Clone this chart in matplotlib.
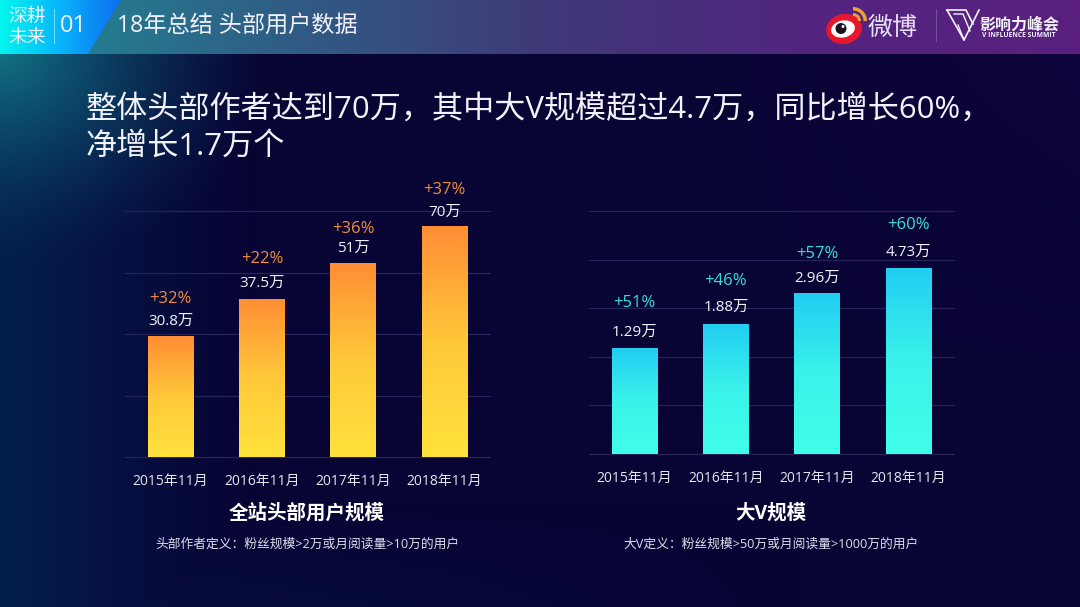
"""Recreate the head-user slide: two gradient bar charts on a dark slide."""

import matplotlib
matplotlib.use("Agg")
import matplotlib.pyplot as plt
from matplotlib.colors import LinearSegmentedColormap
from matplotlib.patches import Circle, Ellipse, Polygon, Wedge
import numpy as np

plt.rcParams['font.family'] = ['Open Sans', 'Noto Sans CJK SC', 'DejaVu Sans']

WIDTH = 1080
HEIGHT = 607
DPI = 100

# data (bar heights are on the drawn axis, they do not follow the labels)
months = ['2015年11月', '2016年11月', '2017年11月', '2018年11月']
total_heights = [39.3, 51.4, 63.1, 75.1]
total_labels = ['30.8万', '37.5万', '51万', '70万']
total_growth = ['+32%', '+22%', '+36%', '+37%']
v_heights = [2.18, 2.68, 3.31, 3.83]
v_labels = ['1.29万', '1.88万', '2.96万', '4.73万']
v_growth = ['+51%', '+46%', '+57%', '+60%']

WHITE = '#f2f2fa'
GRID = '#24245a'


def pixel_axes(fig, x0, y0, x1, y1):
    """Add axes from picture pixel coordinates (y going down)."""
    return fig.add_axes([x0 / WIDTH, 1 - y1 / HEIGHT, (x1 - x0) / WIDTH, (y1 - y0) / HEIGHT])


def draw_background(ov):
    """Dark navy slide with a teal glow in the upper left and the header band."""
    yy, xx = np.mgrid[0:HEIGHT, 0:WIDTH]
    base = np.array([8, 4, 52], dtype=float)
    navy = np.array([3, 30, 78], dtype=float)
    teal = np.array([18, 112, 130], dtype=float)
    purple = np.array([30, 8, 78], dtype=float)
    left = np.clip(1 - xx / 260.0, 0, 1) ** 1.2
    bottom = np.clip((yy - 500) / 107.0, 0, 1) * np.clip(1 - xx / 800.0, 0, 1) * 0.5
    corner = np.clip(1 - np.hypot(xx / 1.3, yy - 54) / 220.0, 0, 1) ** 1.6
    right = np.clip((xx - 700) / 380.0, 0, 1) * np.clip(1 - yy / 400.0, 0, 1) * 0.4
    img = base + (navy - base)[None, None, :] * np.maximum(left, bottom)[:, :, None]
    img = img + (teal - img) * corner[:, :, None]
    img = img + (purple - base)[None, None, :] * right[:, :, None]
    ov.imshow(img / 255, extent=[0, WIDTH, HEIGHT, 0], aspect='auto', zorder=0)

    band = LinearSegmentedColormap.from_list('band', ['#1f8a94', '#2f5f86', '#3f3a78', '#52257f', '#5a1f80'])
    ov.imshow(np.linspace(0, 1, 512)[None, :], extent=[0, WIDTH, 54, 0], aspect='auto', cmap=band, zorder=1)

    cyan = LinearSegmentedColormap.from_list('cyan', ['#00f6ee', '#08b4fa', '#0f6cf0'])
    im = ov.imshow(np.linspace(0, 1, 256)[None, :], extent=[0, 121, 54, 0], aspect='auto', cmap=cyan, zorder=2)
    shape = Polygon([(0, 0), (121, 0), (88, 54), (0, 54)], closed=True, facecolor='none', edgecolor='none',
                    transform=ov.transData)
    ov.add_patch(shape)
    im.set_clip_path(shape)
    ov.plot([53.5, 53.5], [9, 43], color='#7fe8f8', lw=0.6, zorder=3)


def draw_header(ov):
    """Header texts and the two logos."""
    ov.text(27, 17, '深耕', color=WHITE, fontsize=13.5, ha='center', va='center', zorder=4)
    ov.text(27, 37.5, '未来', color=WHITE, fontsize=13.5, ha='center', va='center', zorder=4)
    ov.text(73.5, 25.5, '01', color=WHITE, fontsize=17, ha='center', va='center', zorder=4)
    ov.text(117, 27, '18年总结 头部用户数据', color=WHITE, fontsize=16.7, ha='left', va='center', zorder=4)

    # weibo mark
    ov.add_patch(Ellipse((844, 29), 36, 30, angle=-12, facecolor='#e6162d', zorder=4))
    ov.add_patch(Ellipse((843, 29), 24, 17, angle=-12, facecolor='white', zorder=5))
    ov.add_patch(Circle((841, 28.5), 5.5, facecolor='#1a1020', zorder=6))
    ov.add_patch(Circle((843, 26.5), 1.5, facecolor='white', zorder=7))
    ov.add_patch(Wedge((853, 21), 14, 270, 360, width=3.5, facecolor='#f0a030', zorder=5))
    ov.add_patch(Wedge((853, 21), 8, 270, 360, width=3, facecolor='#f0a030', zorder=5))
    ov.text(893, 28, '微博', color='#e8e0f4', fontsize=18, ha='center', va='center', zorder=4)
    ov.plot([935.5, 935.5], [9, 41], color='#7a5aa0', lw=0.6, zorder=4)

    # V mark
    ov.plot([947, 964, 979], [10, 40, 10], color=WHITE, lw=1.2, zorder=4)
    ov.plot([947, 966, 973], [10, 10, 24], color=WHITE, lw=1.2, zorder=4)
    ov.plot([954, 963, 970], [14, 14, 31], color=WHITE, lw=1.0, zorder=4)
    ov.plot([964, 958], [40, 25], color=WHITE, lw=1.0, zorder=4)
    ov.text(1019, 26, '影响力峰会', color=WHITE, fontsize=11.5, weight='bold', ha='center', va='center', zorder=4)
    ov.text(1018.5, 35.5, 'V INFLUENCE SUMMIT', color=WHITE, fontsize=4.9, weight='bold',
            ha='center', va='center', zorder=4)


def gradient_bars(ax, heights, colors):
    """Draw the bars and fill each of them with a vertical gradient."""
    cmap = LinearSegmentedColormap.from_list('bar', colors)
    positions = np.arange(len(heights))
    bars = ax.bar(positions, heights, width=0.5, facecolor='none', edgecolor='none', zorder=3)
    grad = np.linspace(1, 0, 256)[:, None]
    for bar in bars:
        x0 = bar.get_x()
        im = ax.imshow(grad, extent=[x0, x0 + bar.get_width(), 0, bar.get_height()],
                       aspect='auto', cmap=cmap, vmin=0, vmax=1, zorder=3)
        im.set_clip_path(bar)
    return bars


def bar_chart(fig, box, heights, ymax, step, labels, growth, growth_color, label_off, growth_off, colors):
    """One chart panel: grid, gradient bars, value and growth labels, month ticks."""
    ax = pixel_axes(fig, *box)
    ax.patch.set_alpha(0)
    gradient_bars(ax, heights, colors)
    ax.set_xlim(-0.5, len(heights) - 0.5)
    ax.set_ylim(0, ymax)
    ax.set_yticks(np.arange(0, ymax + step / 2, step))
    ax.grid(axis='y', color=GRID, lw=0.9, zorder=1, clip_on=False)
    ax.set_axisbelow(True)
    ax.tick_params(axis='both', length=0, labelleft=False)
    ax.set_xticks(range(len(months)))
    ax.set_xticklabels(months, color='#e6e6f2', fontsize=10)
    ax.tick_params(axis='x', pad=12)
    for side in ('top', 'right', 'left', 'bottom'):
        ax.spines[side].set_visible(False)
    for i, h in enumerate(heights):
        ax.annotate(labels[i], (i, h), xytext=(0, label_off[i] * 72 / DPI), textcoords='offset points',
                    ha='center', va='center', color=WHITE, fontsize=11, annotation_clip=False)
        ax.annotate(growth[i], (i, h), xytext=(0, growth_off[i] * 72 / DPI), textcoords='offset points',
                    ha='center', va='center', color=growth_color, fontsize=12, annotation_clip=False)
    return ax


def main():
    fig = plt.figure(figsize=(WIDTH / DPI, HEIGHT / DPI), dpi=DPI)
    ov = fig.add_axes([0, 0, 1, 1])
    draw_background(ov)
    draw_header(ov)
    ov.set_xlim(0, WIDTH)
    ov.set_ylim(HEIGHT, 0)
    ov.axis('off')

    ov.text(86, 109.5, '整体头部作者达到70万，其中大V规模超过4.7万，同比增长60%，', color=WHITE,
            fontsize=22.4, ha='left', va='center')
    ov.text(86, 147, '净增长1.7万个', color=WHITE, fontsize=22.4, ha='left', va='center')

    bar_chart(fig, (125, 211, 490, 457), total_heights, 80, 20, total_labels, total_growth, '#f08c3c',
              [15, 16, 15, 14], [37, 40, 34, 36], ['#ffe23c', '#ffc83a', '#ff8d35'])
    bar_chart(fig, (589, 211, 954, 454), v_heights, 5, 1, v_labels, v_growth, '#36e0d8',
              [16, 16, 15, 16], [45, 43, 39, 43], ['#40ffe8', '#3af2ea', '#22cdf2'])

    ov.text(307, 514, '全站头部用户规模', color='white', fontsize=14, weight='bold', ha='center', va='center')
    ov.text(307, 544, '头部作者定义：粉丝规模>2万或月阅读量>10万的用户', color='#dcdcec', fontsize=9.2,
            ha='center', va='center')
    ov.text(771, 514, '大V规模', color='white', fontsize=14, weight='bold', ha='center', va='center')
    ov.text(771, 544, '大V定义：粉丝规模>50万或月阅读量>1000万的用户', color='#dcdcec', fontsize=9.2,
            ha='center', va='center')

    fig.savefig('out.png', dpi=DPI)
    plt.close(fig)


if __name__ == "__main__":
    main()
